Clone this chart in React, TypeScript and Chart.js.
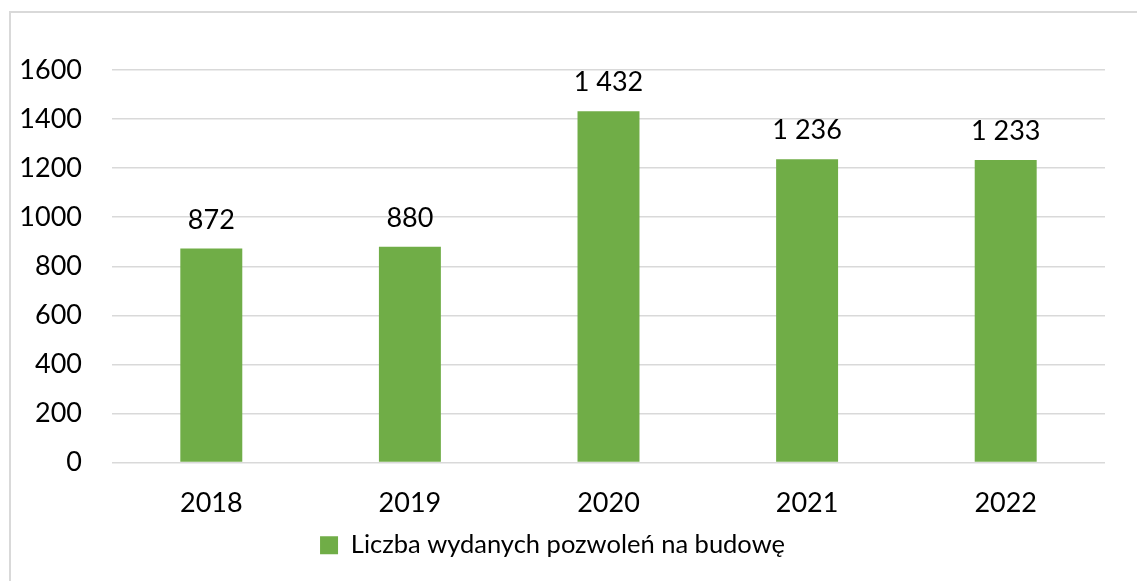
import React, { useEffect, useRef } from "react";
import { Chart, registerables } from "chart.js";

Chart.register(...registerables);

const FONT = "Lato, 'Open Sans', sans-serif";

const categories = ["2018", "2019", "2020", "2021", "2022"];
const values = [872, 880, 1432, 1236, 1233];
const seriesLabel = "Liczba wydanych pozwoleń na budowę";
const yMin = 0;
const yMax = 1600;
const yStep = 200;

const barColor = "#70ad47";
const gridColor = "#d9d9d9";

const fmt = (v: number) => String(v).replace(/\B(?=(\d{3})+(?!\d))/g, " ");

const valueLabels = {
  id: "valueLabels",
  afterDatasetsDraw(chart: any) {
    const ctx = chart.ctx;
    const meta = chart.getDatasetMeta(0);
    ctx.save();
    ctx.font = `27px ${FONT}`;
    ctx.fillStyle = "#000";
    ctx.textAlign = "center";
    ctx.textBaseline = "alphabetic";
    meta.data.forEach((el: any, i: number) => {
      ctx.fillText(fmt(values[i]), el.x, el.y - 20);
    });
    ctx.restore();
  },
};

export default function App() {
  const ref = useRef<HTMLCanvasElement | null>(null);

  useEffect(() => {
    if (!ref.current) return;
    const chart = new Chart(ref.current, {
      type: "bar",
      data: {
        labels: categories,
        datasets: [
          {
            label: seriesLabel,
            data: values,
            backgroundColor: barColor,
            borderWidth: 0,
            barPercentage: 0.312,
            categoryPercentage: 1,
          },
        ],
      },
      options: {
        animation: false,
        responsive: true,
        maintainAspectRatio: false,
        layout: { padding: { top: 70, right: 32, bottom: 13, left: 0 } },
        plugins: {
          tooltip: { enabled: false },
          legend: {
            display: true,
            position: "bottom",
            labels: {
              boxWidth: 18,
              boxHeight: 18,
              padding: 10,
              color: "#000",
              font: { family: FONT, size: 25.5 },
            },
          },
        },
        scales: {
          x: {
            grid: { display: false, drawTicks: false },
            border: { display: false },
            ticks: {
              color: "#000",
              font: { family: FONT, size: 27 },
              padding: 25,
              maxRotation: 0,
            },
            afterFit: (scale: any) => {
              scale.height = 60;
            },
          },
          y: {
            min: yMin,
            max: yMax,
            grid: { color: gridColor, lineWidth: 1.5, drawTicks: false },
            border: { display: false },
            ticks: {
              stepSize: yStep,
              color: "#000",
              font: { family: FONT, size: 27 },
              padding: 30,
              callback: (v: any) => String(v),
            },
            afterFit: (scale: any) => {
              scale.width = 112;
            },
          },
        },
      },
      plugins: [valueLabels],
    });
    return () => chart.destroy();
  }, []);

  return (
    <div
      style={{
        position: "fixed",
        left: 0,
        top: 0,
        width: 1137,
        height: 581,
        overflow: "hidden",
        background: "#fff",
      }}
    >
      <div
        style={{
          position: "absolute",
          left: 9,
          top: 11,
          width: 1160,
          height: 600,
          border: "2px solid #d9d9d9",
          boxSizing: "border-box",
        }}
      />
      <div style={{ position: "absolute", left: 0, top: 0, width: 1137, height: 581 }}>
        <canvas ref={ref} />
      </div>
    </div>
  );
}
